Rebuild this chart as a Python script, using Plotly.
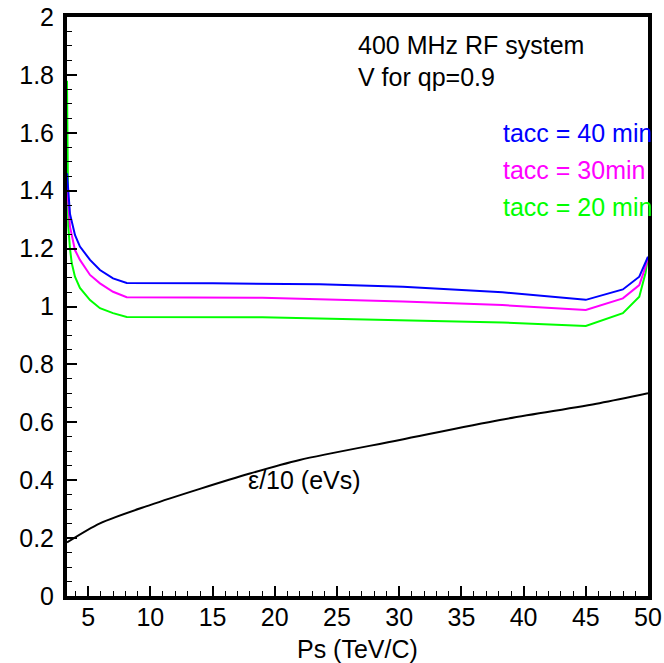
import plotly.graph_objects as go

# Required RF voltage vs beam momentum for three acceleration times
ps_blue = [3.3, 3.45, 3.54, 3.94, 4.34, 5.15, 5.95, 7.0, 8.1, 15.0, 20.0, 23.6, 30.3, 38.3, 45.0, 47.98, 49.3, 49.94, 50.0]
v_blue = [1.46, 1.37, 1.32, 1.247, 1.207, 1.161, 1.126, 1.097, 1.081, 1.080, 1.079, 1.077, 1.068, 1.049, 1.023, 1.059, 1.103, 1.165, 1.172]

ps_magenta = [3.3, 3.45, 3.54, 3.94, 4.34, 5.15, 5.95, 7.0, 8.1, 19.0, 30.3, 38.3, 45.0, 47.98, 49.3, 49.8, 50.0]
v_magenta = [1.42, 1.31, 1.276, 1.195, 1.161, 1.109, 1.080, 1.051, 1.032, 1.030, 1.017, 1.005, 0.988, 1.028, 1.074, 1.137, 1.17]

ps_green = [3.3, 3.35, 3.4, 3.54, 3.68, 3.94, 4.34, 5.15, 5.95, 7.0, 8.1, 19.0, 30.3, 38.3, 45.0, 47.98, 49.3, 49.8, 50.0]
v_green = [1.78, 1.45, 1.28, 1.20, 1.150, 1.103, 1.064, 1.022, 0.994, 0.977, 0.964, 0.963, 0.953, 0.945, 0.933, 0.977, 1.034, 1.116, 1.17]

# Longitudinal emittance / 10 (eVs)
ps_eps = [3.3, 5.95, 9.97, 13.98, 18.0, 22.0, 30.05, 38.1, 46.1, 50.0]
eps_10 = [0.185, 0.251, 0.314, 0.370, 0.423, 0.470, 0.539, 0.608, 0.666, 0.700]

FONT = "Liberation Sans, Arial, sans-serif"
FS = 25

fig = go.Figure()
fig.add_trace(go.Scatter(x=ps_eps, y=eps_10, mode="lines",
                         line=dict(color="black", width=2, shape="spline", smoothing=0.8)))
fig.add_trace(go.Scatter(x=ps_green, y=v_green, mode="lines", line=dict(color="#00ff00", width=2)))
fig.add_trace(go.Scatter(x=ps_magenta, y=v_magenta, mode="lines", line=dict(color="#ff00ff", width=2)))
fig.add_trace(go.Scatter(x=ps_blue, y=v_blue, mode="lines", line=dict(color="#0000ff", width=2)))

labels = [
    (26.6, 1.903, "400 MHz RF system", "black"),
    (26.6, 1.793, "V for qp=0.9", "black"),
    (38.25, 1.599, "tacc = 40 min", "#0000ff"),
    (38.25, 1.471, "tacc = 30min", "#ff00ff"),
    (38.25, 1.344, "tacc = 20 min", "#00ff00"),
    (17.8, 0.40, "\u03b5/10 (eVs)", "black"),
]
for x, y, t, c in labels:
    fig.add_annotation(x=x, y=y, text=t, showarrow=False, xanchor="left", yanchor="middle",
                       xshift=-1, font=dict(family=FONT, size=FS, color=c))

# x-axis title placed under the tick labels
fig.add_annotation(x=0.5, y=-0.0915, xref="paper", yref="paper", text="Ps (TeV/C)",
                   showarrow=False, xanchor="center", yanchor="middle",
                   font=dict(family=FONT, size=FS, color="black"))

fig.update_layout(
    width=664, height=663,
    margin=dict(l=67, r=16, t=17, b=67, autoexpand=False),
    paper_bgcolor="white", plot_bgcolor="white",
    showlegend=False,
    font=dict(family=FONT, size=FS, color="black"),
)
fig.update_xaxes(
    range=[3.3, 50], tickmode="linear", tick0=5, dtick=5, automargin=False,
    ticks="inside", ticklen=10, tickwidth=1.5, tickcolor="black",
    minor=dict(dtick=1, tick0=5, ticks="inside", ticklen=5, tickwidth=1, tickcolor="black"),
    showline=True, linewidth=4, linecolor="black", mirror=True,
    showgrid=False, zeroline=False, ticklabelstandoff=-4,
    tickfont=dict(size=FS),
)
fig.update_yaxes(
    range=[0, 2], tickmode="linear", tick0=0, dtick=0.2, automargin=False,
    ticks="inside", ticklen=10, tickwidth=1.5, tickcolor="black",
    minor=dict(dtick=0.05, ticks="inside", ticklen=5, tickwidth=1, tickcolor="black"),
    showline=True, linewidth=4, linecolor="black", mirror=True,
    showgrid=False, zeroline=False, ticklabelstandoff=4,
    tickfont=dict(size=FS),
)

fig.write_html("out.html")
